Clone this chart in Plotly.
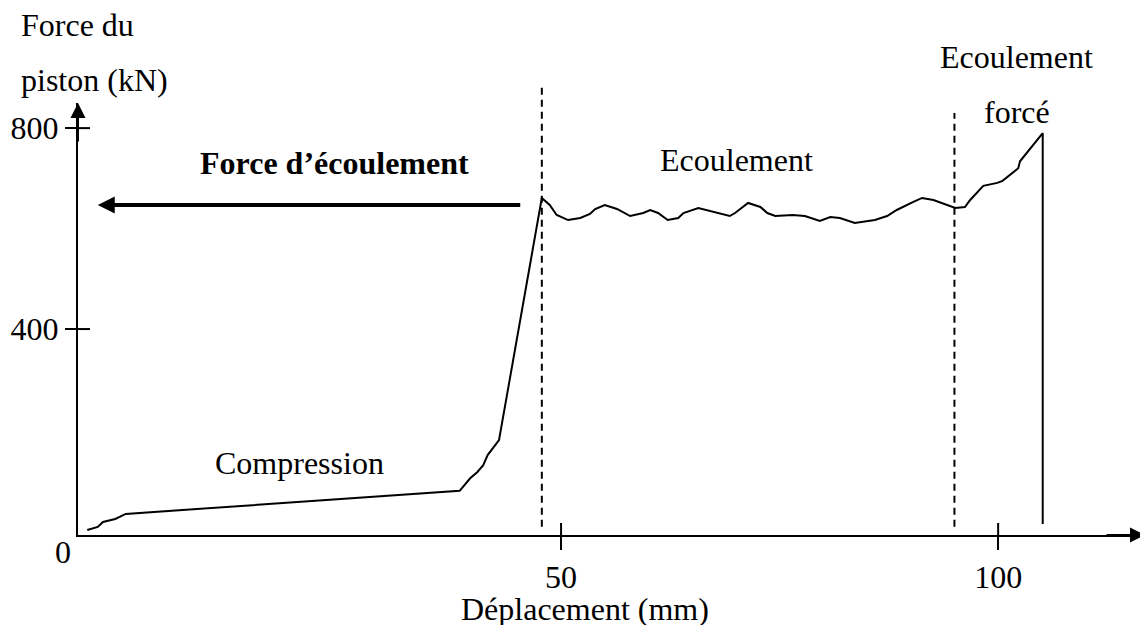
import plotly.graph_objects as go

# Courbe force du piston / déplacement
deplacement = [-4.2, -3.0, -2.4, -1.9, -1.0, -0.5, 0.2, 38.4, 39.6, 40.4, 41.1, 41.6, 42.9,
               47.8, 48.7, 49.5, 50.8, 52.2, 53.3, 53.9, 55.0, 56.4, 57.9, 59.4, 60.2, 61.1,
               62.2, 63.4, 64.0, 65.7, 67.4, 69.3, 69.9, 71.4, 72.8, 73.6, 74.5, 76.5, 77.9,
               79.6, 80.8, 81.9, 83.6, 85.9, 87.3, 88.4, 90.3, 91.3, 92.6, 95.1, 96.2, 96.8,
               98.3, 99.9, 100.5, 102.3, 102.5, 104.0, 105.1, 105.1]
force = [0, 6, 16, 18, 22, 26, 32, 78, 103, 115, 129, 149, 179,
         661, 647, 627, 617, 621, 629, 639, 647, 639, 625, 631, 637, 631,
         617, 621, 631, 641, 633, 625, 631, 651, 643, 631, 625, 627, 625,
         615, 623, 621, 611, 617, 625, 637, 653, 661, 657, 641, 643, 657,
         685, 691, 695, 720, 734, 766, 790, 12]

# limites des phases (traits pointillés)
limites_phases = [47.8, 95.0]

# graduations
x_ticks = [50, 100]
x_labels = ['50', '100']
y_ticks = [400, 800]
y_labels = ['400', '800']

# niveau de la force d'écoulement (flèche)
force_ecoulement = 647

FONT = 'Liberation Serif, Times New Roman, serif'
X_RANGE = [-5.26, 116.8]
Y_RANGE = [-10, 850]

fig = go.Figure()

fig.add_trace(go.Scatter(
    x=deplacement,
    y=force,
    mode='lines',
    line=dict(color='black', width=2),
    hoverinfo='skip',
    showlegend=False
))

shapes = []
# traits pointillés verticaux
for xb, top in zip(limites_phases, [1.046, 0.977]):
    shapes.append(dict(type='line', xref='x', yref='paper', x0=xb, x1=xb,
                       y0=0.019, y1=top,
                       line=dict(color='black', width=2, dash='7px,5px')))
# moitié intérieure des graduations (croix)
for v in x_ticks:
    shapes.append(dict(type='line', xref='x', yref='y', x0=v, x1=v,
                       ysizemode='pixel', yanchor=Y_RANGE[0], y0=0, y1=12,
                       line=dict(color='black', width=2)))
for v in y_ticks:
    shapes.append(dict(type='line', xref='x', yref='y', y0=v, y1=v,
                       xsizemode='pixel', xanchor=X_RANGE[0], x0=0, x1=12,
                       line=dict(color='black', width=2)))


def texte(txt, x, y, xref='paper', yref='paper', xanchor='center'):
    return dict(xref=xref, yref=yref, x=x, y=y, text=txt, showarrow=False,
                xanchor=xanchor, yanchor='middle')


annotations = [
    # flèches des axes
    dict(xref='paper', yref='paper', x=1, y=0, ax=-40, ay=0, text='',
         showarrow=True, arrowhead=2, arrowsize=1.5, arrowwidth=2, arrowcolor='black'),
    dict(xref='paper', yref='paper', x=0, y=1, ax=0, ay=40, text='',
         showarrow=True, arrowhead=2, arrowsize=1.5, arrowwidth=2, arrowcolor='black'),
    # flèche force d'écoulement
    dict(xref='x', yref='y', axref='x', ayref='y', x=-3.0, y=force_ecoulement,
         ax=45.5, ay=force_ecoulement, text='', showarrow=True, arrowhead=2,
         arrowsize=0.85, arrowwidth=4, arrowcolor='black'),
    texte("<b>Force d’écoulement</b>", 24.1, 730, 'x', 'y'),
    texte('Compression', 20.1, 133, 'x', 'y'),
    texte('Ecoulement', 70.1, 736, 'x', 'y'),
    texte('Ecoulement', 0.880, 1.106),
    texte('forcé', 0.880, 0.979),
    texte('0', -0.0141, -0.0394),
    texte('Déplacement (mm)', 0.4753, -0.172),
    texte('Force du', -0.0553, 1.181, xanchor='left'),
    texte('piston (kN)', -0.0553, 1.053, xanchor='left'),
]

fig.update_layout(
    width=1148,
    height=625,
    margin=dict(l=70, r=11, t=95, b=98),
    paper_bgcolor='white',
    plot_bgcolor='white',
    font=dict(family=FONT, size=32, color='black'),
    shapes=shapes,
    annotations=annotations,
    xaxis=dict(
        range=X_RANGE, showgrid=False, zeroline=False, automargin=False,
        showline=True, linecolor='black', linewidth=2,
        ticks='outside', ticklen=13, tickwidth=2, tickcolor='black',
        tickvals=x_ticks, ticktext=x_labels,
        tickfont=dict(family=FONT, size=32, color='black')
    ),
    yaxis=dict(
        range=Y_RANGE, showgrid=False, zeroline=False, automargin=False,
        showline=True, linecolor='black', linewidth=2,
        ticks='outside', ticklen=11, tickwidth=2, tickcolor='black',
        tickvals=y_ticks, ticktext=y_labels, ticklabelstandoff=0,
        tickfont=dict(family=FONT, size=32, color='black')
    ),
)

fig.write_html("out.html")
